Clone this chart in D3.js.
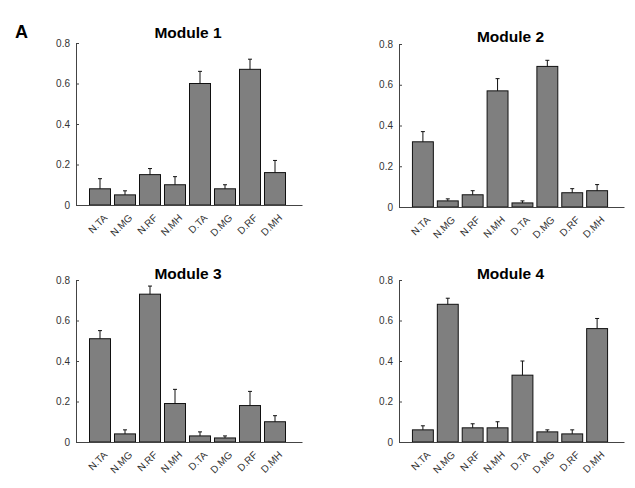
<!DOCTYPE html>
<html>
<head>
<meta charset="utf-8">
<script src="https://cdn.jsdelivr.net/npm/d3@7"></script>
<style>
  html, body { margin: 0; padding: 0; background: #fff; }
  svg { display: block; font-family: "Liberation Sans", Arial, sans-serif; }
</style>
</head>
<body>
<svg id="chart" width="635" height="488"></svg>
<script>
// ---- data ----
const categories = ["N.TA", "N.MG", "N.RF", "N.MH", "D.TA", "D.MG", "D.RF", "D.MH"];
const yTicks = [0, 0.2, 0.4, 0.6, 0.8];
const moduleTitles = ["Module 1", "Module 2", "Module 3", "Module 4"];

const module1Values = [0.08, 0.05, 0.15, 0.10, 0.60, 0.08, 0.67, 0.16];
const module1Errors = [0.05, 0.02, 0.03, 0.04, 0.06, 0.02, 0.05, 0.06];
const module2Values = [0.32, 0.03, 0.06, 0.57, 0.02, 0.69, 0.07, 0.08];
const module2Errors = [0.05, 0.01, 0.02, 0.06, 0.01, 0.03, 0.02, 0.03];
const module3Values = [0.51, 0.04, 0.73, 0.19, 0.03, 0.02, 0.18, 0.10];
const module3Errors = [0.04, 0.02, 0.04, 0.07, 0.02, 0.01, 0.07, 0.03];
const module4Values = [0.06, 0.68, 0.07, 0.07, 0.33, 0.05, 0.04, 0.56];
const module4Errors = [0.02, 0.03, 0.02, 0.03, 0.07, 0.01, 0.02, 0.05];

const panels = [
  { title: moduleTitles[0], values: module1Values, errors: module1Errors, x0: 76,  x1: 302, yTop: 43,  yBot: 205, titleY: 38 },
  { title: moduleTitles[1], values: module2Values, errors: module2Errors, x0: 399, x1: 624, yTop: 44,  yBot: 207, titleY: 42 },
  { title: moduleTitles[2], values: module3Values, errors: module3Errors, x0: 76,  x1: 302, yTop: 280, yBot: 442, titleY: 279 },
  { title: moduleTitles[3], values: module4Values, errors: module4Errors, x0: 399, x1: 624, yTop: 280, yBot: 442, titleY: 279 }
];

const svg = d3.select("#chart");

svg.append("text")
  .attr("x", 15).attr("y", 38)
  .attr("font-size", 18).attr("font-weight", "bold").attr("fill", "#000")
  .text("A");

const axisColor = "#444";
const textColor = "#333";

panels.forEach(p => {
  const g = svg.append("g");
  const x = d3.scaleLinear().domain([0.04, 9.08]).range([p.x0, p.x1]);
  const y = d3.scaleLinear().domain([0, 0.8]).range([p.yBot, p.yTop]);
  const unit = x(2) - x(1);
  const barW = unit * 0.84;

  // bars
  g.selectAll("rect.bar").data(p.values).enter().append("rect")
    .attr("class", "bar")
    .attr("x", (d, i) => x(i + 1) - barW / 2)
    .attr("y", d => y(d))
    .attr("width", barW)
    .attr("height", d => y(0) - y(d))
    .attr("fill", "#7f7f7f")
    .attr("stroke", "#111")
    .attr("stroke-width", 1);

  // error bars (upper only)
  const eg = g.selectAll("g.err").data(p.values.map((v, i) => ({ v, e: p.errors[i], i }))).enter().append("g");
  eg.append("line")
    .attr("x1", d => x(d.i + 1)).attr("x2", d => x(d.i + 1))
    .attr("y1", d => y(d.v)).attr("y2", d => y(d.v + d.e))
    .attr("stroke", "#111").attr("stroke-width", 1);
  eg.append("line")
    .attr("x1", d => x(d.i + 1) - 2).attr("x2", d => x(d.i + 1) + 2)
    .attr("y1", d => y(d.v + d.e)).attr("y2", d => y(d.v + d.e))
    .attr("stroke", "#111").attr("stroke-width", 1);

  // y axis
  const yAxis = d3.axisLeft(y).tickValues(yTicks)
    .tickFormat(d => d === 0 ? "0" : d3.format(".1f")(d))
    .tickSizeInner(-3).tickSizeOuter(0).tickPadding(6);
  const ya = g.append("g").attr("transform", `translate(${p.x0},0)`).call(yAxis);
  ya.select(".domain").attr("stroke", axisColor);
  ya.selectAll(".tick line").attr("stroke", axisColor);
  ya.selectAll(".tick text").attr("fill", textColor).attr("font-size", 10)
    .attr("font-family", "Liberation Sans, Arial, sans-serif");

  // x axis
  const xAxis = d3.axisBottom(x).tickValues(categories.map((c, i) => i + 1))
    .tickFormat((d) => categories[d - 1]).tickSize(0).tickPadding(0);
  const xa = g.append("g").attr("transform", `translate(0,${p.yBot})`).call(xAxis);
  xa.select(".domain").attr("stroke", axisColor);
  xa.selectAll(".tick text")
    .attr("fill", textColor).attr("font-size", 10)
    .attr("font-family", "Liberation Sans, Arial, sans-serif")
    .attr("text-anchor", "end")
    .attr("dy", "0.35em")
    .attr("transform", "translate(5,11) rotate(-45)");

  // title
  g.append("text")
    .attr("x", (p.x0 + p.x1) / 2 - 1).attr("y", p.titleY)
    .attr("text-anchor", "middle")
    .attr("font-size", 15.5).attr("font-weight", "bold").attr("fill", "#000")
    .text(p.title);
});
</script>
</body>
</html>
